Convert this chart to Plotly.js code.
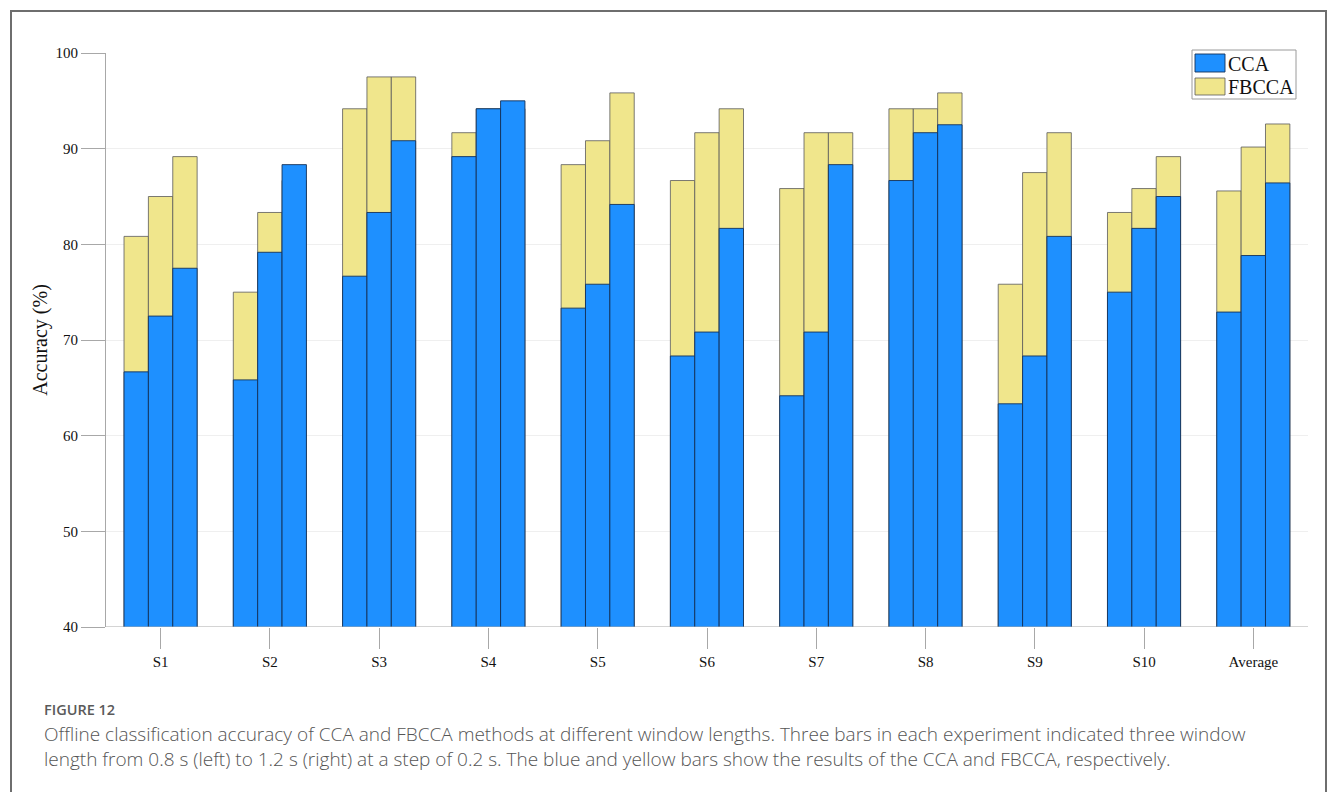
<!DOCTYPE html>
<html>
<head>
<meta charset="utf-8">
<script src="https://cdn.plot.ly/plotly-3.0.1.min.js"></script>
<style>
  html, body { margin: 0; padding: 0; background: #fff; overflow: hidden; }
  #frame { position: absolute; left: 10px; top: 10px; width: 1317px; height: 800px;
           border: 2px solid #6e6e6e; border-bottom: none; box-sizing: border-box; pointer-events: none; }
  #chart { position: absolute; left: 0; top: 0; width: 1336px; height: 792px; }
</style>
</head>
<body>
<div id="chart"></div>
<div id="frame"></div>
<script>
// ---- data ----
const categories = ["S1", "S2", "S3", "S4", "S5", "S6", "S7", "S8", "S9", "S10", "Average"];
// CCA accuracy (%) for window lengths 0.8 s, 1.0 s, 1.2 s
const cca_08 = [66.67, 65.83, 76.67, 89.17, 73.33, 68.33, 64.17, 86.67, 63.33, 75.00, 72.92];
const cca_10 = [72.50, 79.17, 83.33, 94.17, 75.83, 70.83, 70.83, 91.67, 68.33, 81.67, 78.83];
const cca_12 = [77.50, 88.33, 90.83, 95.00, 84.17, 81.67, 88.33, 92.50, 80.83, 85.00, 86.42];
// FBCCA accuracy (%) for window lengths 0.8 s, 1.0 s, 1.2 s
const fbcca_08 = [80.83, 75.00, 94.17, 91.67, 88.33, 86.67, 85.83, 94.17, 75.83, 83.33, 85.58];
const fbcca_10 = [85.00, 83.33, 97.50, 94.17, 90.83, 91.67, 91.67, 94.17, 87.50, 85.83, 90.17];
const fbcca_12 = [89.17, 86.67, 97.50, 94.17, 95.83, 94.17, 91.67, 95.83, 91.67, 89.17, 92.58];
const yTicks = [40, 50, 60, 70, 80, 90, 100];
const seriesNames = ["CCA", "FBCCA"];
const captionHead = "FIGURE 12";
const captionLines = [
  "Offline classification accuracy of CCA and FBCCA methods at different window lengths. Three bars in each experiment indicated three window",
  "length from 0.8 s (left) to 1.2 s (right) at a step of 0.2 s. The blue and yellow bars show the results of the CCA and FBCCA, respectively."
];

// ---- styling ----
const BLUE = "#1E90FF";
const YELLOW = "#F0E68C";
const BLUE_EDGE = "rgba(20,50,90,0.9)";
const YELLOW_EDGE = "rgba(90,90,90,0.8)";
const barW = 0.223;
const offsets = [-0.335, -0.112, 0.111];
const serif = "Liberation Serif, Times New Roman, serif";

function barTrace(y, idx, name, color, lineColor) {
  return {
    type: "bar", x: categories, y: y, name: name,
    width: barW, offset: offsets[idx],
    marker: { color: color, line: { color: lineColor, width: 1 } },
    showlegend: false,
    hoverinfo: "x+y+name"
  };
}

const traces = [
  barTrace(fbcca_08, 0, seriesNames[1], YELLOW, YELLOW_EDGE),
  barTrace(fbcca_10, 1, seriesNames[1], YELLOW, YELLOW_EDGE),
  barTrace(fbcca_12, 2, seriesNames[1], YELLOW, YELLOW_EDGE),
  barTrace(cca_08, 0, seriesNames[0], BLUE, BLUE_EDGE),
  barTrace(cca_10, 1, seriesNames[0], BLUE, BLUE_EDGE),
  barTrace(cca_12, 2, seriesNames[0], BLUE, BLUE_EDGE)
];

const W = 1336, H = 792;
const mL = 106, mR = 28, mT = 53, mB = 165;
const pw = W - mL - mR, ph = H - mT - mB;
const px = v => (v - mL) / pw;       // pixel x -> paper x
const py = v => (H - mB - v) / ph;   // pixel y -> paper y

// legend box (drawn as shapes + text)
const legendShapes = [
  { type: "rect", xref: "paper", yref: "paper", x0: px(1192), x1: px(1296), y0: py(99), y1: py(50),
    line: { color: "#9a9a9a", width: 1 }, fillcolor: "#ffffff", layer: "above" },
  { type: "rect", xref: "paper", yref: "paper", x0: px(1195), x1: px(1225), y0: py(72), y1: py(54),
    line: { color: BLUE_EDGE, width: 1 }, fillcolor: BLUE, layer: "above" },
  { type: "rect", xref: "paper", yref: "paper", x0: px(1195), x1: px(1225), y0: py(95), y1: py(78),
    line: { color: YELLOW_EDGE, width: 1 }, fillcolor: YELLOW, layer: "above" }
];
const legendText = [
  { xref: "paper", yref: "paper", x: px(1226), y: py(63.5), xanchor: "left", yanchor: "middle",
    text: seriesNames[0], showarrow: false, font: { family: serif, size: 20, color: "#111" } },
  { xref: "paper", yref: "paper", x: px(1226), y: py(87), xanchor: "left", yanchor: "middle",
    text: seriesNames[1], showarrow: false, font: { family: serif, size: 20, color: "#111" } }
];

const layout = {
  width: W, height: H,
  margin: { l: mL, r: mR, t: mT, b: mB, pad: 0 },
  paper_bgcolor: "#ffffff", plot_bgcolor: "#ffffff",
  barmode: "overlay",
  showlegend: false,
  xaxis: {
    type: "category", range: [-0.5, categories.length - 0.5],
    showgrid: false, showline: false, zeroline: false,
    ticks: "outside", ticklen: 21, tickcolor: "#a8a8a8", tickwidth: 1,
    tickfont: { family: serif, size: 15, color: "#111" },
    fixedrange: true
  },
  yaxis: {
    range: [40, 100], tickvals: yTicks, ticktext: yTicks.map(String),
    showgrid: true, gridcolor: "#efefef", gridwidth: 1,
    showline: true, linecolor: "#a8a8a8", linewidth: 1,
    zeroline: false,
    ticks: "outside", ticklen: 24, tickcolor: "#a8a8a8", tickwidth: 1,
    tickfont: { family: serif, size: 15, color: "#111" },
    title: { text: "Accuracy (%)", font: { family: serif, size: 20, color: "#111" }, standoff: 2 },
    fixedrange: true
  },
  shapes: [
    { type: "line", xref: "paper", yref: "y", x0: 0, x1: 1, y0: 40, y1: 40,
      line: { color: "#a8a8a8", width: 1 }, layer: "above" }
  ].concat(legendShapes),
  annotations: [
    { xref: "paper", yref: "paper", x: px(42), y: py(709), xanchor: "left", yanchor: "middle",
      text: captionHead, showarrow: false,
      font: { family: "Open Sans, sans-serif", size: 14.5, color: "#5a5a5a", weight: 600 } },
    { xref: "paper", yref: "paper", x: px(42), y: py(746), xanchor: "left", yanchor: "middle",
      align: "left", text: captionLines.join("<br>"), showarrow: false,
      font: { family: "Open Sans, sans-serif", size: 19, color: "#555", weight: 300 } }
  ].concat(legendText)
};

Plotly.newPlot("chart", traces, layout, { displayModeBar: false, staticPlot: true });
</script>
</body>
</html>
